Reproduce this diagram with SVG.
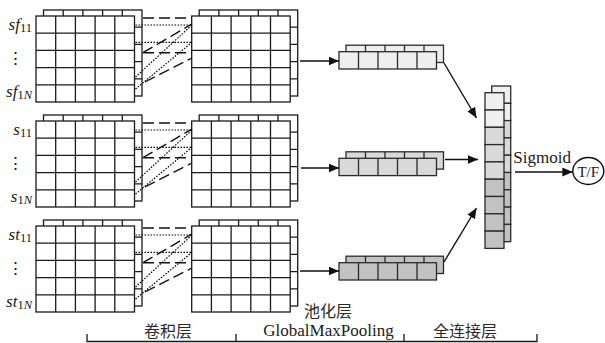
<svg xmlns="http://www.w3.org/2000/svg" xmlns:xlink="http://www.w3.org/1999/xlink" width="605" height="343" viewBox="0 0 605 343">
  <style>
    .ln { fill: none; stroke: #1a1a1a; stroke-width: 1.3; }
    .cell { fill: #ffffff; stroke: #1a1a1a; stroke-width: 1.3; }
    .vc { stroke: #2a2a2a; stroke-width: 1.3; }
    .dash { fill: none; stroke: #111; stroke-width: 1.4; stroke-dasharray: 11 5; }
    .dot { fill: none; stroke: #000; stroke-width: 1.2; stroke-dasharray: 1.5 1.5; }
    .arr { fill: none; stroke: #111; stroke-width: 1.4; marker-end: url(#head); }
    .lbl { font-family: "Liberation Serif", "Times New Roman", serif; font-size: 17px; fill: #1a1a1a; }
    .it { font-style: italic; }
    .sub { font-size: 12.5px; }
    .cjk { font-family: "Noto Sans CJK SC", sans-serif; font-size: 16px; fill: #2a2a2a; }
    .light { fill: #efefef; }
    .mid { fill: #d9d9d9; }
    .dark { fill: #c2c2c2; }
  </style>
  <defs>
    <marker id="head" markerUnits="userSpaceOnUse" markerWidth="11" markerHeight="9" refX="10.5" refY="4.5" orient="auto">
      <path d="M0 0L10.5 4.5L0 9z" fill="#111"/>
    </marker>
    <!-- 5x5 feature map -->
    <g id="mesh">
      <rect class="cell" width="98.5" height="86"/>
      <path class="ln" d="M19.7 0V86M39.4 0V86M59.1 0V86M78.8 0V86M0 17.2H98.5M0 34.4H98.5M0 51.6H98.5M0 68.8H98.5"/>
    </g>
    <!-- two stacked feature maps -->
    <g id="stack">
      <use xlink:href="#mesh" x="7.5" y="-6"/>
      <use xlink:href="#mesh"/>
    </g>
    <!-- 1x5 pooled vector, fill comes from the referencing element -->
    <g id="vec">
      <rect class="vc" width="97.5" height="17.3"/>
      <path class="vc" fill="none" d="M19.5 0v17.3M39 0v17.3M58.5 0v17.3M78 0v17.3"/>
    </g>
    <!-- dashed / dotted links between the conv map and the pool map -->
    <g id="links">
      <path class="dash" d="M143 18H192M143 52.7H192M143 52.7L192 24M145 82L192 58"/>
      <path class="dot" d="M135.5 25H192M135.5 42.3H192M135.5 77L192 25M135.5 89L192 42.3"/>
    </g>
  </defs>

  <!-- row 1: sf -->
  <g id="conv-sf"><use xlink:href="#stack" x="36" y="16"/></g>
  <g id="pool-sf"><use xlink:href="#stack" x="191.7" y="16"/></g>
  <g id="vec-sf">
    <use xlink:href="#vec" x="346" y="45.2" class="light"/>
    <use xlink:href="#vec" x="339" y="51.7" class="light"/>
  </g>
  <g id="label-sf">
    <text class="lbl" x="32" y="30" text-anchor="end"><tspan class="it">sf</tspan><tspan class="sub" dy="2">11</tspan></text>
    <text class="lbl" x="15" y="64" text-anchor="middle">⋮</text>
    <text class="lbl" x="32" y="97" text-anchor="end"><tspan class="it">sf</tspan><tspan class="sub" dy="2">1<tspan class="it">N</tspan></tspan></text>
  </g>

  <!-- row 2: s -->
  <g id="conv-s"><use xlink:href="#stack" x="36" y="121"/></g>
  <g id="pool-s"><use xlink:href="#stack" x="191.7" y="121"/></g>
  <g id="vec-s">
    <use xlink:href="#vec" x="346" y="151.8" class="mid"/>
    <use xlink:href="#vec" x="339" y="158.3" class="mid"/>
  </g>
  <g id="label-s">
    <text class="lbl" x="32" y="135" text-anchor="end"><tspan class="it">s</tspan><tspan class="sub" dy="2">11</tspan></text>
    <text class="lbl" x="15" y="169" text-anchor="middle">⋮</text>
    <text class="lbl" x="32" y="202" text-anchor="end"><tspan class="it">s</tspan><tspan class="sub" dy="2">1<tspan class="it">N</tspan></tspan></text>
  </g>

  <!-- row 3: st -->
  <g id="conv-st"><use xlink:href="#stack" x="36" y="226"/></g>
  <g id="pool-st"><use xlink:href="#stack" x="191.7" y="226"/></g>
  <g id="vec-st">
    <use xlink:href="#vec" x="346" y="256.2" class="dark"/>
    <use xlink:href="#vec" x="339" y="262.7" class="dark"/>
  </g>
  <g id="label-st">
    <text class="lbl" x="32" y="240" text-anchor="end"><tspan class="it">st</tspan><tspan class="sub" dy="2">11</tspan></text>
    <text class="lbl" x="15" y="274" text-anchor="middle">⋮</text>
    <text class="lbl" x="32" y="307" text-anchor="end"><tspan class="it">st</tspan><tspan class="sub" dy="2">1<tspan class="it">N</tspan></tspan></text>
  </g>

  <!-- concatenated vector -->
  <g id="concat">
    <g class="vc">
      <rect class="light" x="491.7" y="86" width="19" height="17.3"/>
      <rect class="light" x="491.7" y="103.3" width="19" height="17.3"/>
      <rect class="mid" x="491.7" y="120.6" width="19" height="17.3"/>
      <rect class="mid" x="491.7" y="137.9" width="19" height="17.3"/>
      <rect class="mid" x="491.7" y="155.2" width="19" height="17.3"/>
      <rect class="dark" x="491.7" y="172.5" width="19" height="17.3"/>
      <rect class="dark" x="491.7" y="189.8" width="19" height="17.3"/>
      <rect class="dark" x="491.7" y="207.1" width="19" height="17.3"/>
      <rect class="dark" x="491.7" y="224.4" width="19" height="17.3"/>
      <rect class="light" x="485" y="92.7" width="19" height="17.3"/>
      <rect class="light" x="485" y="110" width="19" height="17.3"/>
      <rect class="mid" x="485" y="127.3" width="19" height="17.3"/>
      <rect class="mid" x="485" y="144.6" width="19" height="17.3"/>
      <rect class="mid" x="485" y="161.9" width="19" height="17.3"/>
      <rect class="dark" x="485" y="179.2" width="19" height="17.3"/>
      <rect class="dark" x="485" y="196.5" width="19" height="17.3"/>
      <rect class="dark" x="485" y="213.8" width="19" height="17.3"/>
      <rect class="dark" x="485" y="231.1" width="19" height="17.3"/>
    </g>
  </g>

  <!-- output -->
  <g id="output">
    <ellipse cx="588.3" cy="171" rx="15.5" ry="13.5" fill="#fff" stroke="#111" stroke-width="1.4"/>
    <text class="lbl" x="588.3" y="176.5" text-anchor="middle" style="font-size:15px">T/F</text>
  </g>

  <!-- connectors -->
  <g id="connectors">
    <use xlink:href="#links"/>
    <use xlink:href="#links" y="105"/>
    <use xlink:href="#links" y="210"/>
    <path class="arr" d="M300 61H339"/>
    <path class="arr" d="M301 168H339"/>
    <path class="arr" d="M300 271H339"/>
    <path class="arr" d="M444 63L476.5 118"/>
    <path class="arr" d="M445 159.5H478"/>
    <path class="arr" d="M444 262L476.5 208"/>
    <path class="arr" d="M515 172H572.8"/>
    <text class="lbl" x="513.3" y="162.7">Sigmoid</text>
  </g>

  <!-- layer captions and bracket -->
  <g id="captions">
    <text class="cjk" x="304" y="316.5">池化层</text>
    <text class="cjk" x="168" y="336.5" text-anchor="middle">卷积层</text>
    <text class="lbl" x="263.3" y="336">GlobalMaxPooling</text>
    <text class="cjk" x="433" y="336.5">全连接层</text>
    <path class="ln" d="M87 334V341.5H537V334M236 334V341.5M404 334V341.5"/>
  </g>
</svg>
